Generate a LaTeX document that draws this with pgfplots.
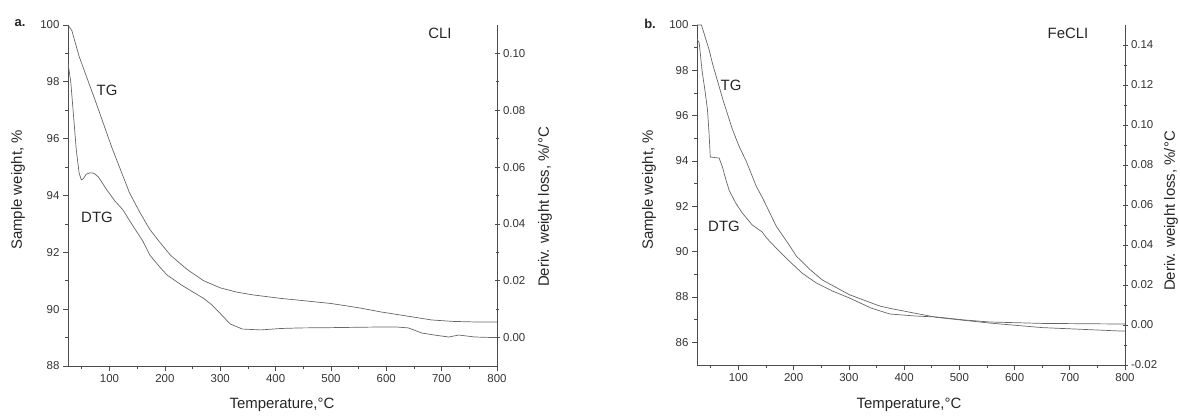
\documentclass[border=0pt]{standalone}
\usepackage{pgfplots}
\pgfplotsset{compat=1.18}
\usepackage{fontspec}
\setmainfont{Liberation Sans}

\pgfplotsset{
  panel/.style={
    scale only axis, xmin=25, xmax=800,
    axis line style={black!70, line width=0.8bp},
    tick style={black!70, line width=0.7bp},
    major tick length=5bp, minor tick length=3bp,
    tick label style={font=\fontsize{11.5}{13}\selectfont, text=black!80},
    /pgf/number format/assume math mode=true,
  },
  leftax/.style={panel, axis x line*=bottom, axis y line*=left, tick align=outside,
    xtick={100,200,...,800}, minor xtick={50,150,...,750}},
  rightax/.style={panel, axis x line=none, axis y line*=right, tick align=center,
    yticklabel style={/pgf/number format/.cd, fixed, fixed zerofill, precision=2}},
  curve/.style={black!60, line width=0.7bp, no marks},
}

\begin{document}
\begin{tikzpicture}[x=1bp, y=1bp]
\useasboundingbox (0,0) rectangle (1180,416);

% ---- panel a: CLI
\begin{axis}[leftax, at={(68bp,50bp)}, anchor=south west, width=429bp, height=341bp,
  ymin=88, ymax=100, ytick={88,90,...,100}, minor ytick={89,91,...,99}]
\addplot[curve] coordinates {
  (25,100) (32,99.8) (45,98.9) (60,98.1) (75,97.3) (104,95.7) (120,94.9) (136,94.1)
  (155,93.4) (173,92.8) (191,92.35) (210,91.9) (240,91.4) (270,91.0) (300,90.75)
  (330,90.6) (360,90.5) (409,90.38) (450,90.3) (500,90.2) (550,90.05) (591,89.9)
  (640,89.75) (682,89.62) (720,89.57) (760,89.55) (800,89.55)
};
\end{axis}
\begin{axis}[rightax, at={(68bp,50bp)}, anchor=south west, width=429bp, height=341bp,
  ymin=-0.01, ymax=0.11, ytick={0,0.02,0.04,0.06,0.08,0.10},
  minor ytick={0.01,0.03,0.05,0.07,0.09}]
\addplot[curve] coordinates {
  (25,0.0965) (30,0.090) (35,0.078) (40,0.066) (45,0.058) (49,0.0555) (53,0.056)
  (58,0.0575) (65,0.058) (72,0.0578) (80,0.0565) (95,0.052) (110,0.048) (124,0.045)
  (140,0.040) (160,0.034) (173,0.029) (190,0.025) (204,0.022) (230,0.0185)
  (251,0.016) (270,0.0138) (285,0.0115) (300,0.0085) (318,0.0048) (340,0.0030)
  (373,0.0027) (409,0.0032) (445,0.0034) (500,0.0035) (578,0.0037) (620,0.0037)
  (640,0.0034) (664,0.0016) (690,0.0008) (713,0.0002) (731,0.0009) (760,0.0002)
  (796,0.0000) (800,0.0000)
};
\end{axis}

% ---- panel b: FeCLI
\begin{axis}[leftax, at={(697bp,51bp)}, anchor=south west, width=428bp, height=340bp,
  ymin=85, ymax=100, ytick={86,88,...,100}, minor ytick={87,89,...,99}]
\addplot[curve] coordinates {
  (25,100) (33,100) (47,98.9) (53,98.3) (72,96.7) (89,95.4) (102,94.6) (114,94.0)
  (132,92.9) (143,92.4) (169,91.1) (189,90.4) (205,89.8) (230,89.2) (252,88.75)
  (301,88.1) (356,87.6) (374,87.5) (459,87.1) (555,86.85) (650,86.65) (791,86.5)
  (800,86.5)
};
\end{axis}
\begin{axis}[rightax, at={(697bp,51bp)}, anchor=south west, width=428bp, height=340bp,
  ymin=-0.02, ymax=0.15, ytick={-0.02,0,0.02,0.04,0.06,0.08,0.10,0.12,0.14},
  minor ytick={-0.01,0.01,0.03,0.05,0.07,0.09,0.11,0.13}]
\addplot[curve] coordinates {
  (25,0.143) (29,0.141) (34,0.1275) (40,0.116) (44,0.1075) (47,0.095) (49,0.084)
  (55,0.0838) (60,0.0836) (65,0.0835) (71,0.079) (77,0.073) (83,0.0675) (95,0.061)
  (107,0.056) (125,0.050) (143,0.0465) (151,0.0435) (170,0.038) (192,0.032)
  (215,0.026) (241,0.021) (270,0.017) (301,0.0135) (340,0.0085) (374,0.0055)
  (420,0.0045) (459,0.004) (510,0.0025) (555,0.0015) (650,0.0008) (791,0.0005)
  (800,0.0005)
};
\end{axis}

% ---- texts
\begin{scope}[every node/.style={text=black!85, font=\fontsize{15}{17}\selectfont}]
\node[font=\bfseries\fontsize{13}{15}\selectfont] at (20,393) {a.};
\node[font=\bfseries\fontsize{13}{15}\selectfont] at (650,392) {b.};
\node at (440,383) {CLI};
\node at (1068,383) {FeCLI};
\node at (107,326) {TG};
\node at (97,199) {DTG};
\node at (731,331) {TG};
\node at (724,190) {DTG};
\node at (282,11) {Temperature,°C};
\node at (909,11) {Temperature,°C};
\node[rotate=90] at (18,226) {Sample weight, \%};
\node[rotate=90] at (649,226) {Sample weight, \%};
\node[rotate=90] at (545,209) {Deriv. weight loss, \%/°C};
\node[rotate=90, inner sep=1bp] at (1171,205) {Deriv. weight loss, \%/°C};
\end{scope}
\end{tikzpicture}
\end{document}
